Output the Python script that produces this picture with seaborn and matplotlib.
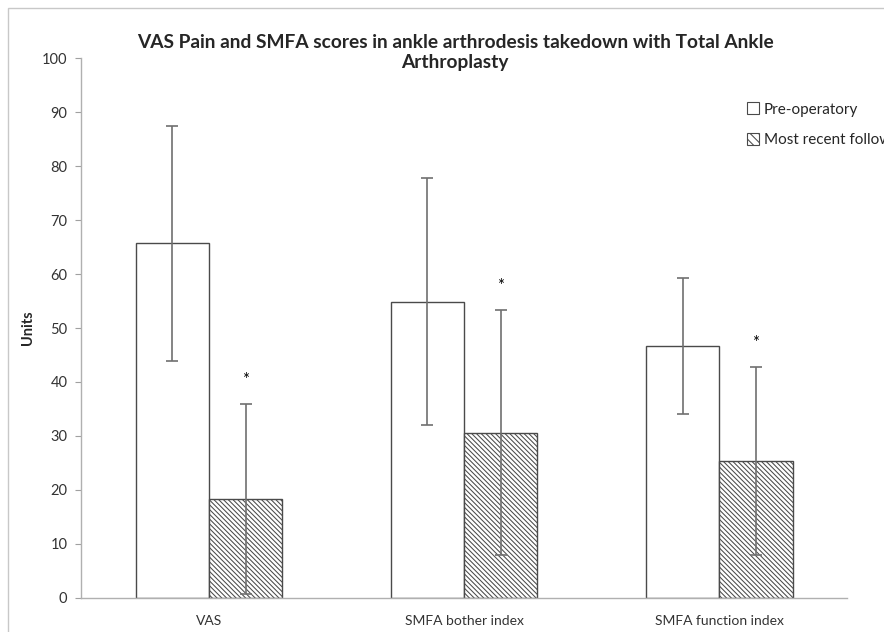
import pandas as pd
import matplotlib
matplotlib.use("Agg")
import matplotlib.pyplot as plt
from matplotlib.patches import Patch, Rectangle
import seaborn as sns

# Values
categories = ["VAS", "SMFA bother index", "SMFA function index"]
groups = ["Pre-operatory", "Most recent follow up"]
pre_means = [65.7, 54.9, 46.7]
pre_err = [21.8, 22.9, 12.6]
post_means = [18.3, 30.6, 25.3]
post_err = [17.6, 22.7, 17.4]
y_ticks = [0, 10, 20, 30, 40, 50, 60, 70, 80, 90, 100]
title = "VAS Pain and SMFA scores in ankle arthrodesis takedown with Total Ankle\nArthroplasty"

# Build a long table for seaborn
df = pd.DataFrame({
    "category": categories * 2,
    "group": [groups[0]] * 3 + [groups[1]] * 3,
    "value": pre_means + post_means,
})

sns.set_style("white")
plt.rcParams["font.family"] = ["Lato", "DejaVu Sans"]
plt.rcParams["hatch.linewidth"] = 0.75
plt.rcParams["hatch.color"] = "#2a2a2a"

fig = plt.figure(figsize=(8.84, 6.32), dpi=100)
ax = fig.add_axes([0.092, 0.054, 0.866, 0.854])

edge = "#4a4a4a"
sns.barplot(data=df, x="category", y="value", hue="group", order=categories,
            hue_order=groups, palette=["white", "white"], width=0.575,
            edgecolor=edge, linewidth=1.0, errorbar=None, legend=False, ax=ax)

# hatch the follow-up bars
for bar in ax.containers[1]:
    bar.set_hatch("\\\\\\\\\\\\\\")

# error bars and significance stars
for cont, errs, star in [(ax.containers[0], pre_err, False), (ax.containers[1], post_err, True)]:
    for bar, e in zip(cont, errs):
        cx = bar.get_x() + bar.get_width() / 2
        h = bar.get_height()
        ax.errorbar(cx, h, yerr=e, fmt="none", ecolor="#707070", elinewidth=1.2,
                    capsize=4, capthick=1.2, zorder=3)
        if star:
            ax.text(cx, h + e + 4.5, "*", ha="center", va="center", fontsize=12, color="black")

ax.set_ylim(0, 100)
ax.set_xlim(-0.5, 2.5)
ax.set_yticks(y_ticks)
ax.set_yticklabels([str(t) for t in y_ticks], fontsize=10.5, color="#333333")
ax.set_xticks([0, 1, 2])
ax.set_xticklabels(categories, fontsize=10, color="#333333")
ax.set_xticks([-0.5, 0.5, 1.5, 2.5], minor=True)
ax.tick_params(axis="x", which="major", length=0, pad=12)
ax.tick_params(axis="x", which="minor", length=5, color="#a0a0a0", direction="out")
ax.tick_params(axis="y", length=4, color="#a0a0a0", direction="out", pad=6, left=True)
ax.set_xlabel("")
ax.set_ylabel("Units", fontsize=10.5, fontweight="bold", labelpad=5)

sns.despine(ax=ax)
for s in ["left", "bottom"]:
    ax.spines[s].set_color("#b0b0b0")
    ax.spines[s].set_linewidth(1.0)

fig.text(0.515, 0.917, title, ha="center", va="center", fontsize=13.8,
         fontweight="bold", linespacing=1.2)

handles = [Patch(facecolor="white", edgecolor=edge, linewidth=0.8),
           Patch(facecolor="white", edgecolor=edge, linewidth=0.8, hatch="\\\\\\\\")]
fig.legend(handles, groups, loc="upper left", bbox_to_anchor=(0.845, 0.838),
           frameon=False, fontsize=11, handlelength=0.8, handleheight=0.8,
           handletextpad=0.3, labelspacing=1.1, borderpad=0, borderaxespad=0)

# light outer frame like the exported chart area
fig.patches.append(Rectangle((0.009, -0.1), 1.2, 1.087, transform=fig.transFigure,
                             fill=False, edgecolor="#c8c8c8", linewidth=1.0))

fig.savefig("out.png", dpi=100)
